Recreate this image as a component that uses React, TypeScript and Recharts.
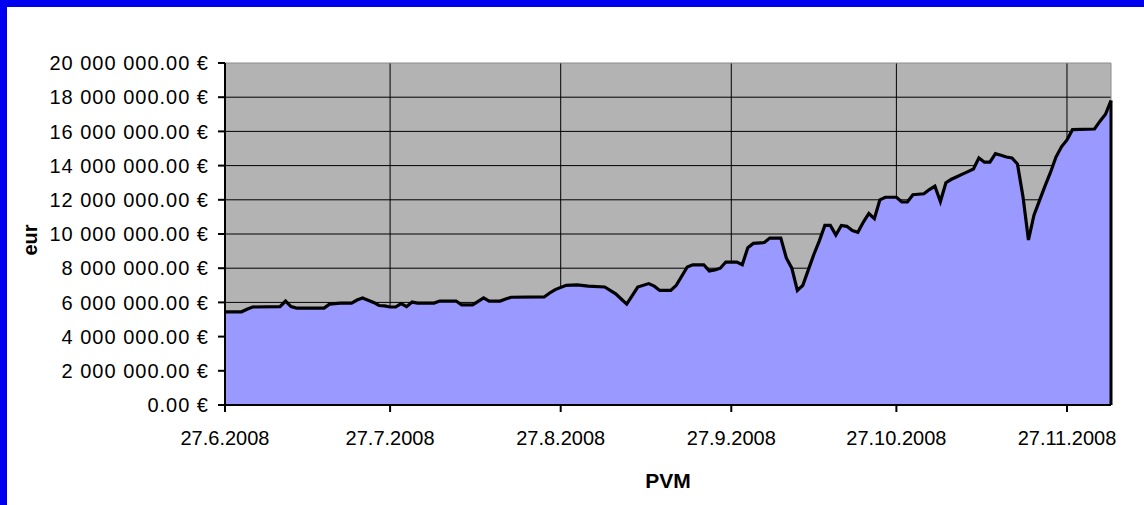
import React from 'react';
import { AreaChart, Area, XAxis, YAxis, CartesianGrid, ReferenceLine, ReferenceArea } from 'recharts';

const dates = [
  '2008-06-27', '2008-06-30', '2008-07-01', '2008-07-02', '2008-07-07', '2008-07-08', '2008-07-09', '2008-07-10',
  '2008-07-15', '2008-07-16', '2008-07-18', '2008-07-20', '2008-07-21', '2008-07-22', '2008-07-24', '2008-07-25',
  '2008-07-26', '2008-07-27', '2008-07-28', '2008-07-29', '2008-07-30', '2008-07-31', '2008-08-01', '2008-08-04',
  '2008-08-05', '2008-08-08', '2008-08-09', '2008-08-11', '2008-08-13', '2008-08-14', '2008-08-16', '2008-08-17',
  '2008-08-18', '2008-08-24', '2008-08-25', '2008-08-26', '2008-08-28', '2008-08-30', '2008-09-01', '2008-09-04',
  '2008-09-06', '2008-09-07', '2008-09-08', '2008-09-09', '2008-09-10', '2008-09-12', '2008-09-13', '2008-09-14',
  '2008-09-16', '2008-09-17', '2008-09-19', '2008-09-20', '2008-09-22', '2008-09-23', '2008-09-24', '2008-09-25',
  '2008-09-26', '2008-09-28', '2008-09-29', '2008-09-30', '2008-10-01', '2008-10-03', '2008-10-04', '2008-10-06',
  '2008-10-07', '2008-10-08', '2008-10-09', '2008-10-10', '2008-10-11', '2008-10-12', '2008-10-13', '2008-10-14',
  '2008-10-15', '2008-10-16', '2008-10-17', '2008-10-18', '2008-10-19', '2008-10-20', '2008-10-21', '2008-10-22',
  '2008-10-23', '2008-10-24', '2008-10-25', '2008-10-27', '2008-10-28', '2008-10-29', '2008-10-30', '2008-11-01',
  '2008-11-02', '2008-11-03', '2008-11-04', '2008-11-05', '2008-11-06', '2008-11-07', '2008-11-08', '2008-11-09',
  '2008-11-10', '2008-11-11', '2008-11-12', '2008-11-13', '2008-11-14', '2008-11-15', '2008-11-16', '2008-11-17',
  '2008-11-18', '2008-11-19', '2008-11-20', '2008-11-21', '2008-11-22', '2008-11-23', '2008-11-24', '2008-11-25',
  '2008-11-26', '2008-11-27', '2008-11-28', '2008-12-02', '2008-12-03', '2008-12-04', '2008-12-05',
];

// portfolio value in millions of euros
const valuesMillions = [
  5.45, 5.45, 5.6, 5.73, 5.75, 6.08, 5.75, 5.67,
  5.67, 5.9, 5.96, 5.96, 6.14, 6.26, 6.0, 5.82,
  5.8, 5.73, 5.73, 5.93, 5.75, 6.02, 5.96, 5.96,
  6.08, 6.08, 5.85, 5.85, 6.26, 6.08, 6.08, 6.2,
  6.3, 6.32, 6.55, 6.75, 7.0, 7.02, 6.95, 6.9,
  6.5, 6.2, 5.9, 6.4, 6.9, 7.1, 6.95, 6.7,
  6.7, 7.0, 8.07, 8.2, 8.2, 7.84, 7.9, 8.0,
  8.36, 8.36, 8.2, 9.2, 9.45, 9.5, 9.76, 9.76,
  8.6, 8.0, 6.7, 7.0, 7.9, 8.8, 9.6, 10.5,
  10.5, 9.94, 10.5, 10.45, 10.2, 10.1, 10.7, 11.2,
  10.9, 12.0, 12.15, 12.15, 11.87, 11.87, 12.3, 12.35,
  12.6, 12.8, 11.9, 13.0, 13.2, 13.35, 13.5, 13.65,
  13.8, 14.45, 14.2, 14.2, 14.7, 14.6, 14.5, 14.45,
  14.1, 12.2, 9.65, 11.1, 11.95, 12.8, 13.6, 14.5,
  15.1, 15.5, 16.1, 16.14, 16.6, 17.0, 17.8,
];

const xTickDates = ['2008-06-27', '2008-07-27', '2008-08-27', '2008-09-27', '2008-10-27', '2008-11-27'];
const axisStartDate = '2008-06-27';
const axisEndDate = '2008-12-05';
const yTicksMillions = [0, 2, 4, 6, 8, 10, 12, 14, 16, 18, 20];

const DAY = 86400000;
const toUtc = (s: string) => {
  const [y, m, d] = s.split('-').map(Number);
  return Date.UTC(y, m - 1, d);
};
const START = toUtc(axisStartDate);
const dayOf = (s: string) => Math.round((toUtc(s) - START) / DAY);

const data = dates.map((d, i) => ({ day: dayOf(d), value: valuesMillions[i] * 1e6 }));
const xTicks = xTickDates.map(dayOf);
const xDomain = [0, dayOf(axisEndDate)];
const yTicks = yTicksMillions.map((v) => v * 1e6);
const last = data[data.length - 1];

const fmtDate = (day: number) => {
  const dt = new Date(START + day * DAY);
  return `${dt.getUTCDate()}.${dt.getUTCMonth() + 1}.${dt.getUTCFullYear()}`;
};
const fmtEur = (v: number) =>
  String(Math.round(v)).replace(/\B(?=(\d{3})+(?!\d))/g, ' ') + '.00 €';

const FONT = '"Liberation Sans", Arial, sans-serif';

const EurLabel = (props: any) => {
  const vb = props.viewBox || {};
  const cx = 37;
  const cy = (vb.y ?? 63) + (vb.height ?? 342) / 2 + 6;
  return (
    <text
      x={cx}
      y={cy}
      transform={`rotate(-90 ${cx} ${cy})`}
      textAnchor="middle"
      fontFamily={FONT}
      fontWeight="bold"
      fontSize={20}
      fill="#000"
    >
      eur
    </text>
  );
};

export default function App() {
  return (
    <div
      style={{
        position: 'fixed',
        left: 0,
        top: 0,
        width: 1144,
        height: 505,
        background: '#ffffff',
        overflow: 'hidden',
      }}
    >
      <div style={{ position: 'absolute', left: 0, top: 0, width: 1144, height: 7, background: '#0000f0' }} />
      <div style={{ position: 'absolute', left: 0, top: 0, width: 7, height: 505, background: '#0000f0' }} />
      <div style={{ position: 'absolute', left: 0, top: 0 }}>
        <AreaChart width={1144} height={505} data={data} margin={{ top: 63, right: 33, bottom: 0, left: 0 }}>
          <CartesianGrid
            fill="#b3b3b3"
            fillOpacity={1}
            stroke="#000"
            strokeWidth={1}
            horizontalValues={yTicks.slice(1, -1)}
            verticalValues={xTicks.slice(1)}
          />
          <ReferenceArea x1={xDomain[0]} x2={xDomain[1]} y1={0} y2={yTicks[yTicks.length - 1]} fill="none" stroke="#8c8c8c" strokeWidth={1} />
          <Area
            type="linear"
            dataKey="value"
            stroke="#000"
            strokeWidth={3.2}
            fill="#9999ff"
            fillOpacity={1}
            dot={false}
            activeDot={false}
            isAnimationActive={false}
          />
          <ReferenceLine
            segment={[
              { x: last.day, y: 0 },
              { x: last.day, y: last.value },
            ]}
            stroke="#000"
            strokeWidth={3}
          />
          <XAxis
            type="number"
            dataKey="day"
            domain={xDomain}
            ticks={xTicks}
            tickFormatter={fmtDate}
            height={100}
            tickSize={7}
            tickMargin={19}
            interval={0}
            stroke="#000"
            strokeWidth={2}
            tick={{ fill: '#000', fontSize: 20, fontFamily: FONT }}
            label={{ value: 'PVM', position: 'insideBottom', offset: 17, fill: '#000', fontSize: 21, fontWeight: 'bold', fontFamily: FONT }}
          />
          <YAxis
            type="number"
            domain={[0, yTicks[yTicks.length - 1]]}
            ticks={yTicks}
            tickFormatter={fmtEur}
            width={225}
            tickSize={7}
            tickMargin={9}
            interval={0}
            stroke="#000"
            strokeWidth={2}
            tick={{ fill: '#000', fontSize: 20, fontFamily: FONT, letterSpacing: 1 }}
            label={<EurLabel />}
          />
        </AreaChart>
      </div>
    </div>
  );
}
